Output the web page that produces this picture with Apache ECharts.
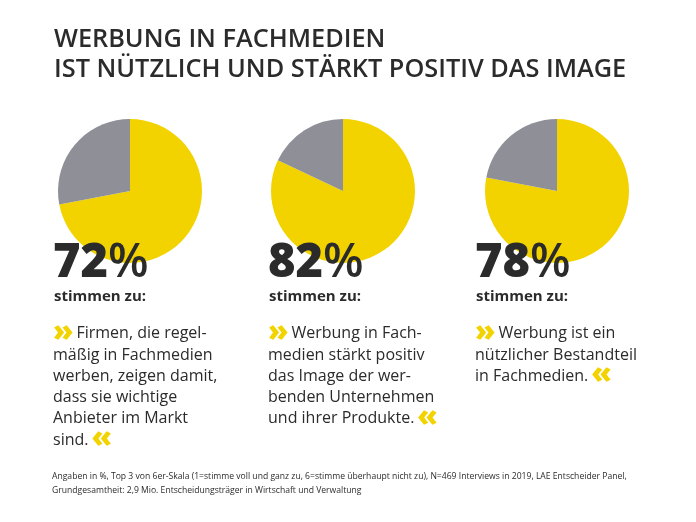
<!DOCTYPE html>
<html><head><meta charset="utf-8">
<script src="https://cdn.jsdelivr.net/npm/echarts@6/dist/echarts.min.js"></script>
<style>html,body{margin:0;padding:0;background:#fff}#c{width:696px;height:522px}</style>
</head><body><div id="c"></div>
<script>
const titleLines = ['WERBUNG IN FACHMEDIEN', 'IST NÜTZLICH UND STÄRKT POSITIV DAS IMAGE'];
const agree = [72, 82, 78];
const notAgree = [28, 18, 22];
const subLabel = 'stimmen zu:';
const statements = [
  ['Firmen, die regel-', 'mäßig in Fachmedien', 'werben, zeigen damit,', 'dass sie wichtige', 'Anbieter im Markt', 'sind.'],
  ['Werbung in Fach-', 'medien stärkt positiv', 'das Image der wer-', 'benden Unternehmen', 'und ihrer Produkte.'],
  ['Werbung ist ein', 'nützlicher Bestandteil', 'in Fachmedien.']
];
const footnote = ['Angaben in %, Top 3 von 6er-Skala (1=stimme voll und ganz zu, 6=stimme überhaupt nicht zu), N=469 Interviews in 2019, LAE Entscheider Panel,',
  'Grundgesamtheit: 2,9 Mio. Entscheidungsträger in Wirtschaft und Verwaltung'];

const YELLOW = '#F2D300', GRAY = '#8E8F97', DARK = '#2B2B2B';
const FONT = '"Open Sans", "Noto Sans", sans-serif';
const centersX = [130, 343, 557];
const textX = [53, 268, 475];
const cy = 191, R = 72;

const chart = echarts.init(document.getElementById('c'), null, {renderer: 'canvas'});

const series = agree.map((v, i) => ({
  type: 'pie', center: [centersX[i], cy], radius: R, startAngle: 90, clockwise: true,
  silent: true, label: {show: false}, labelLine: {show: false}, animation: false,
  data: [{value: v, itemStyle: {color: YELLOW}}, {value: notAgree[i], itemStyle: {color: GRAY}}]
}));

const graphic = [];
titleLines.forEach((t, k) => graphic.push({
  type: 'text', left: 54, top: 27 + k * 30, z: 10,
  style: {text: t, fill: DARK, font: '600 25.3px ' + FONT}
}));
agree.forEach((v, i) => {
  graphic.push({
    type: 'text', x: textX[i], y: 287, z: 10,
    style: {text: '{n|' + v + '}{p|%}', verticalAlign: 'bottom',
      rich: {n: {fontSize: 47, fontWeight: 800, fontFamily: FONT, fill: DARK, color: DARK},
             p: {fontSize: 47, fontWeight: 600, fontFamily: FONT, fill: DARK, color: DARK}}}
  });
  graphic.push({
    type: 'text', x: textX[i] + 1, y: 297, z: 10,
    style: {text: subLabel, fill: DARK, font: 'bold 15px ' + FONT, verticalAlign: 'middle'}
  });
  const lines = statements[i].map((l, k) => {
    let s = '{t|' + l + '}';
    if (k === 0) s = '{c|»}' + s;
    if (k === statements[i].length - 1) s = s + '{d|«}';
    return s;
  });
  const chev = {fontSize: 30, fontWeight: 800, fontFamily: FONT, fill: YELLOW, color: YELLOW, lineHeight: 21.3};
  graphic.push({
    type: 'text', x: textX[i], y: 323, z: 10,
    style: {text: lines.join('\n'), lineHeight: 21.3,
      rich: {t: {fontSize: 16, fontFamily: FONT, fill: DARK, color: DARK, lineHeight: 21.3},
             c: Object.assign({}, chev, {padding: [0, 3, 3, 0]}),
             d: Object.assign({}, chev, {padding: [0, 0, 3, 3]})}}
  });
});
footnote.forEach((t, k) => graphic.push({
  type: 'text', x: 52, y: 472 + k * 14, z: 10,
  style: {text: t, fill: DARK, font: '8.6px ' + FONT}
}));

chart.setOption({backgroundColor: '#fff', animation: false, series, graphic});
</script></body></html>
